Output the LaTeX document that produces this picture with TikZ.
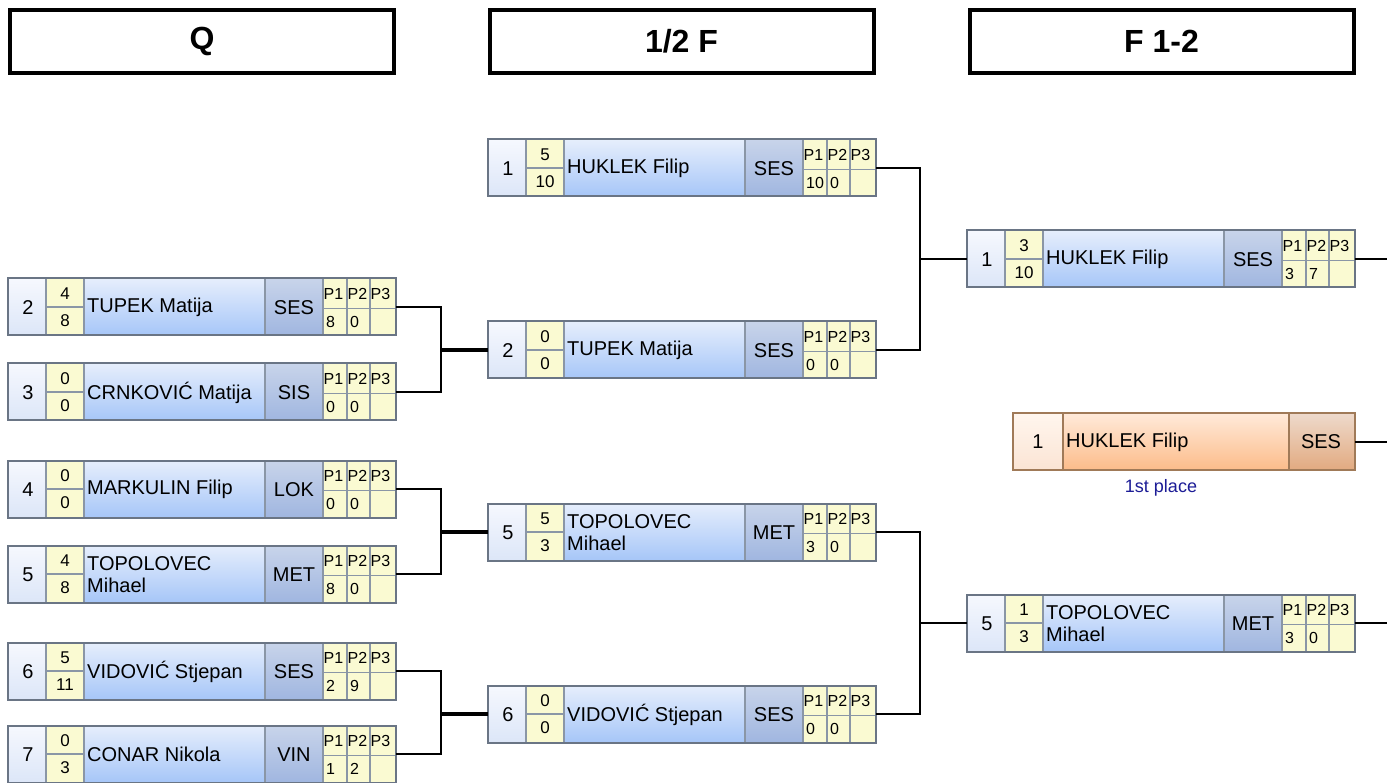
\documentclass[tikz,border=0pt]{standalone}
\usepackage{fontspec}
\setmainfont{Liberation Sans}
\usetikzlibrary{calc}
\definecolor{seedT}{HTML}{F6F8FE}
\definecolor{seedB}{HTML}{DCE6F8}
\definecolor{scoreY}{HTML}{FAFAD2}
\definecolor{nameT}{HTML}{E6EEFC}
\definecolor{nameB}{HTML}{A6C6F8}
\definecolor{clubT}{HTML}{C8D4EA}
\definecolor{clubB}{HTML}{A0B6E0}
\definecolor{outl}{HTML}{6A7585}
\definecolor{sepc}{HTML}{8A96A6}
\definecolor{oseedT}{HTML}{FFF6EE}
\definecolor{oseedB}{HTML}{FBE4D4}
\definecolor{onameT}{HTML}{FFEADA}
\definecolor{onameB}{HTML}{FCBC8A}
\definecolor{oclubT}{HTML}{EEDACC}
\definecolor{oclubB}{HTML}{E2AA80}
\definecolor{ooutl}{HTML}{A07A58}
\definecolor{placec}{HTML}{1C1C96}
\tikzset{
  boxline/.style={draw=outl, line width=2pt},
  sepline/.style={draw=sepc, line width=1.2pt},
  conn/.style={line width=2pt, draw=black},
  connthick/.style={line width=4pt, draw=black},
  hdr/.style={draw=black, line width=4pt, minimum width=384pt, minimum height=63pt,
    font=\fontsize{32}{32}\selectfont\bfseries, inner sep=0pt},
  bigtxt/.style={font=\fontsize{20}{22}\selectfont, inner sep=0pt},
  smalltxt/.style={font=\fontsize{17}{17}\selectfont, inner sep=0pt},
  ptxt/.style={font=\fontsize{16}{16}\selectfont, inner sep=0pt, anchor=west},
  boxanchor/.style={minimum width=388pt, minimum height=57pt, inner sep=0pt, outer sep=0pt},
}
% #1 name, #2 top-left, #3 seed, #4 score top, #5 score bottom, #6 player, #7 club, #8 p1, #9 p2
\newcommand\pbox[9]{%
\begin{scope}[shift={#2}]
  \shade[top color=seedT,bottom color=seedB] (0,0) rectangle (38,57);
  \fill[scoreY] (38,0) rectangle (76,57);
  \shade[top color=nameT,bottom color=nameB] (76,0) rectangle (257,57);
  \shade[top color=clubT,bottom color=clubB] (257,0) rectangle (315,57);
  \fill[scoreY] (315,0) rectangle (388,57);
  \draw[sepline] (38,0)--(38,57) (76,0)--(76,57) (257,0)--(257,57) (315,0)--(315,57)
     (339,0)--(339,57) (362,0)--(362,57) (38,28.5)--(76,28.5) (315,30)--(388,30);
  \draw[boxline] (0,0) rectangle (388,57);
  \node[bigtxt] at (20,29) {#3};
  \node[smalltxt] at (57,15) {#4};
  \node[smalltxt] at (57,42) {#5};
  \node[bigtxt, anchor=west, align=left] at (79,29) {#6};
  \node[bigtxt] at (286,29) {#7};
  \node[ptxt] at (315.5,15) {P1};
  \node[ptxt] at (339.5,15) {P2};
  \node[ptxt] at (362.5,15) {P3};
  \node[ptxt] at (318,43) {#8};
  \node[ptxt] at (342,43) {#9};
  \node[boxanchor] (#1) at (194,28.5) {};
\end{scope}}
\begin{document}
\begin{tikzpicture}[x=1pt,y=-1pt]
\useasboundingbox[fill=white] (0,0) rectangle (1387,783);
% headers
\node[hdr] (hq) at (202,41.5) {Q};
\node[hdr] (hs) at (681.5,41.5) {1/2 F};
\node[hdr] (hf) at (1161.5,41.5) {F 1-2};
% quarterfinal
\pbox{q2}{(8,278.5)}{2}{4}{8}{TUPEK Matija}{SES}{8}{0}
\pbox{q3}{(8,363.5)}{3}{0}{0}{CRNKOVIĆ Matija}{SIS}{0}{0}
\pbox{q4}{(8,460.5)}{4}{0}{0}{MARKULIN Filip}{LOK}{0}{0}
\pbox{q5}{(8,545.5)}{5}{4}{8}{TOPOLOVEC\\Mihael}{MET}{8}{0}
\pbox{q6}{(8,642.5)}{6}{5}{11}{VIDOVIĆ Stjepan}{SES}{2}{9}
\pbox{q7}{(8,725.5)}{7}{0}{3}{CONAR Nikola}{VIN}{1}{2}
% semifinal
\pbox{s1}{(488,139.5)}{1}{5}{10}{HUKLEK Filip}{SES}{10}{0}
\pbox{s2}{(488,321.5)}{2}{0}{0}{TUPEK Matija}{SES}{0}{0}
\pbox{s3}{(488,503.5)}{5}{5}{3}{TOPOLOVEC\\Mihael}{MET}{3}{0}
\pbox{s4}{(488,685.5)}{6}{0}{0}{VIDOVIĆ Stjepan}{SES}{0}{0}
% final
\pbox{f1}{(967,230.5)}{1}{3}{10}{HUKLEK Filip}{SES}{3}{7}
\pbox{f2}{(967,594.5)}{5}{1}{3}{TOPOLOVEC\\Mihael}{MET}{3}{0}
% winner box
\begin{scope}[shift={(1013,413)}]
  \shade[top color=oseedT,bottom color=oseedB] (0,0) rectangle (50,57);
  \shade[top color=onameT,bottom color=onameB] (50,0) rectangle (276,57);
  \shade[top color=oclubT,bottom color=oclubB] (276,0) rectangle (342,57);
  \draw[draw=ooutl, line width=1.5pt] (50,0)--(50,57) (276,0)--(276,57);
  \draw[draw=ooutl, line width=2.5pt] (0,0) rectangle (342,57);
  \node[bigtxt] at (25,29) {1};
  \node[bigtxt, anchor=west] at (53,29) {HUKLEK Filip};
  \node[bigtxt] at (308,29) {SES};
  \node[minimum width=342pt, minimum height=57pt, inner sep=0pt, outer sep=0pt] (win) at (171,28.5) {};
\end{scope}
\node[font=\fontsize{18}{18}\selectfont, text=placec, inner sep=0pt] (place) at (1161,488) {1st place};
% junctions
\coordinate (j1) at (441,350);
\coordinate (j2) at (441,532);
\coordinate (j3) at (441,714);
\coordinate (k1) at (920,259);
\coordinate (k2) at (920,623);
\coordinate (e1) at (1387,259);
\coordinate (e2) at (1387,441.5);
\coordinate (e3) at (1387,623);
% connectors
\draw[conn] (q2.east) -| (j1) |- (q3.east);
\draw[connthick] (j1) -- (s2.west);
\draw[conn] (q4.east) -| (j2) |- (q5.east);
\draw[connthick] (j2) -- (s3.west);
\draw[conn] (q6.east) -| (j3) |- (q7.east);
\draw[connthick] (j3) -- (s4.west);
\draw[conn] (s1.east) -| (k1) |- (s2.east);
\draw[conn] (k1) -- (f1.west);
\draw[conn] (s3.east) -| (k2) |- (s4.east);
\draw[conn] (k2) -- (f2.west);
\draw[conn] (f1.east) -- (e1);
\draw[conn] (win.east) -- (e2);
\draw[conn] (f2.east) -- (e3);
\end{tikzpicture}
\end{document}
